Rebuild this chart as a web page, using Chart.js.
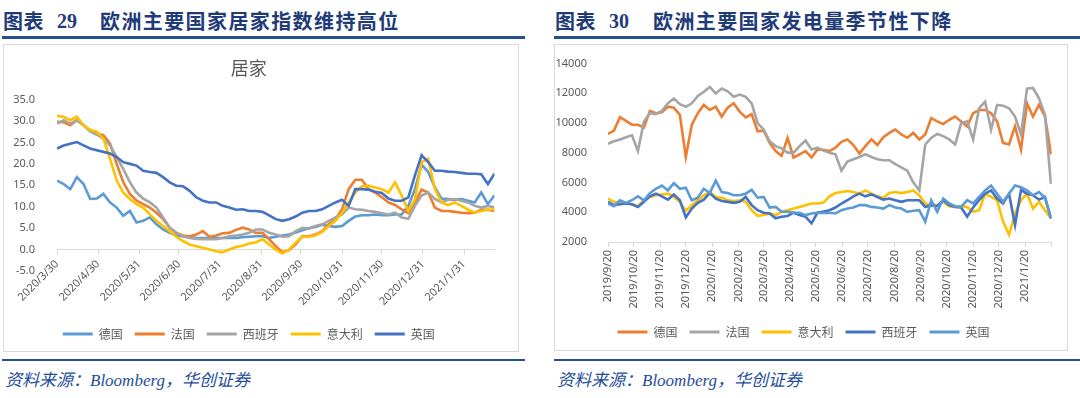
<!DOCTYPE html>
<html>
<head>
<meta charset="utf-8">
<script src="https://cdn.jsdelivr.net/npm/chart.js@4.4.1/dist/chart.umd.min.js"></script>
<style>
  body { margin: 0; width: 1080px; height: 398px; background: #fff; position: relative; overflow: hidden;
         font-family: "Noto Sans CJK SC", sans-serif; }
  .hd { position: absolute; top: 7px; line-height: 28px; font-size: 20px; font-weight: 700; color: #1f3c78; white-space: nowrap; }
  .num { font-family: "Liberation Serif", serif; }
  .rule { position: absolute; height: 3px; background: #24508f; }
  .box { position: absolute; box-sizing: border-box; border: 1px solid #d9d9d9; }
  .src { position: absolute; top: 367px; line-height: 24px; font-size: 17px; font-style: italic; color: #1f4e9a; white-space: nowrap; }
  .src i { font-family: "Liberation Serif", serif; }
  canvas { position: absolute; }
</style>
</head>
<body>
  <div class="hd" style="left:3px;letter-spacing:0.5px">图表</div>
  <div class="hd num" style="left:57px">29</div>
  <div class="hd" style="left:100px;letter-spacing:1.4px">欧洲主要国家居家指数维持高位</div>
  <div class="rule" style="left:2px;top:36px;width:523px"></div>
  <div class="box" style="left:3px;top:44px;width:516px;height:308px"></div>
  <canvas id="home" width="516" height="306" style="left:3px;top:44px"></canvas>
  <div class="rule" style="left:2px;top:359px;width:523px;height:2px"></div>
  <div class="src" style="left:5px">资料来源：<i>Bloomberg</i>，华创证券</div>

  <div class="hd" style="left:555px;letter-spacing:0.5px">图表</div>
  <div class="hd num" style="left:609px">30</div>
  <div class="hd" style="left:653px;letter-spacing:1.4px">欧洲主要国家发电量季节性下降</div>
  <div class="rule" style="left:554px;top:36px;width:526px"></div>
  <div class="box" style="left:554px;top:44px;width:514px;height:307px"></div>
  <canvas id="power" width="514" height="304" style="left:554px;top:44px"></canvas>
  <div class="rule" style="left:554px;top:359px;width:526px;height:2px"></div>
  <div class="src" style="left:557px">资料来源：<i>Bloomberg</i>，华创证券</div>

<script>
// 居家指数: one value every 5 days starting 2020/3/30
const homeStepDays = 5;
const homeTickDays = [0, 31, 62, 92, 123, 154, 184, 215, 245, 276, 307];
const homeTickLabels = ['2020/3/30', '2020/4/30', '2020/5/31', '2020/6/30', '2020/7/31', '2020/8/31',
  '2020/9/30', '2020/10/31', '2020/11/30', '2020/12/31', '2021/1/31'];
const homeGermany = [16.1, 15.3, 14.1, 16.9, 15.3, 11.8, 11.9, 13.0, 11.0, 9.8, 7.9, 9.0, 6.3, 6.7, 7.5, 5.9, 4.7,
  3.9, 3.3, 3.1, 3.0, 2.7, 2.7, 2.7, 2.7, 2.7, 2.7, 2.7, 2.9, 3.0, 3.1, 3.1, 2.7,
  3.0, 3.3, 3.5, 4.0, 4.5, 5.0, 5.3, 5.8, 5.5, 5.3, 5.5, 6.7, 7.7, 8.0, 8.0, 8.2, 8.0, 8.0, 8.2, 8.2,
  10.2, 14.1, 19.8, 18.1, 14.5, 11.9, 11.8, 11.6, 11.8, 11.4, 11.0, 13.3, 10.6, 12.7];
const homeFrance = [29.8, 29.7, 29.0, 30.2, 29.0, 27.9, 27.1, 26.7, 24.7, 20.0, 15.7, 13.0, 11.4, 10.6, 9.8, 8.6, 7.1,
  5.1, 3.9, 3.3, 3.1, 3.5, 4.3, 3.0, 3.3, 3.8, 3.9, 4.6, 5.1, 4.7, 3.9, 3.9, 2.4,
  0.8, -0.6, -0.1, 1.2, 3.1, 3.1, 3.5, 4.3, 5.9, 7.1, 9.4, 14.1, 16.3, 16.3, 14.1, 13.3, 12.2, 11.0, 10.4, 9.4,
  8.5, 11.0, 14.0, 13.3, 9.8, 9.0, 9.0, 8.8, 8.6, 8.5, 8.6, 9.3, 9.3, 9.0];
const homeSpain = [29.4, 30.2, 29.4, 30.2, 29.0, 27.6, 26.8, 25.9, 24.3, 21.6, 18.8, 15.7, 13.3, 11.9, 11.0, 9.8, 7.5,
  5.1, 3.9, 3.1, 2.7, 2.5, 2.4, 2.4, 2.4, 2.7, 3.1, 3.3, 3.5, 3.9, 4.7, 4.7, 3.9,
  3.5, 3.0, 3.1, 4.3, 5.1, 4.9, 5.5, 5.9, 6.7, 7.5, 8.2, 9.8, 9.4, 9.3, 9.0, 8.8, 8.5, 8.2, 8.6, 7.5,
  7.2, 10.2, 12.6, 13.3, 11.8, 11.0, 11.6, 11.8, 11.4, 11.0, 10.2, 9.8, 10.2, 9.8];
const homeItaly = [31.2, 31.0, 30.2, 31.0, 29.0, 27.9, 27.5, 25.9, 21.2, 16.1, 13.3, 11.8, 10.6, 9.8, 8.2, 6.7, 5.5,
  4.3, 3.0, 2.0, 1.2, 0.8, 0.4, 0.0, -0.4, -0.6, 0.0, 0.6, 0.9, 1.4, 1.7, 2.4, 1.2,
  0.0, -0.9, 0.0, 1.6, 3.0, 3.0, 3.3, 4.1, 5.5, 6.7, 8.6, 11.0, 13.3, 14.8, 14.9, 14.5, 14.1, 13.3, 15.7, 12.6,
  9.0, 11.8, 20.4, 21.2, 14.1, 11.0, 10.4, 11.0, 10.2, 9.3, 8.6, 9.0, 9.3, 9.4];
const homeUK = [23.6, 24.3, 24.7, 25.1, 24.3, 23.6, 23.2, 22.8, 22.4, 21.6, 20.4, 20.0, 19.6, 18.4, 18.1, 17.9, 16.9,
  15.7, 14.9, 14.8, 13.7, 12.2, 11.4, 11.0, 11.0, 10.2, 9.8, 9.3, 9.4, 9.0, 9.0, 8.8, 8.0,
  7.1, 6.7, 7.1, 7.7, 8.6, 9.0, 9.0, 9.4, 10.2, 11.0, 11.6, 10.2, 14.1, 14.1, 14.0, 13.5, 13.2, 11.9, 11.4, 11.4,
  12.2, 17.3, 22.0, 20.4, 18.4, 18.4, 18.2, 18.1, 17.9, 17.7, 17.7, 17.6, 15.3, 17.7];

// 发电量: weekly values starting 2019/9/20
const powerStepDays = 7;
const powerTickDays = [0, 30, 61, 91, 122, 153, 182, 213, 243, 274, 304, 335, 366, 396, 427, 457, 488, 519];
const powerTickLabels = ['2019/9/20', '2019/10/20', '2019/11/20', '2019/12/20', '2020/1/20', '2020/2/20', '2020/3/20',
  '2020/4/20', '2020/5/20', '2020/6/20', '2020/7/20', '2020/8/20', '2020/9/20', '2020/10/20', '2020/11/20',
  '2020/12/20', '2021/1/20', ''];
const powerGermany = [9270, 9490, 10400, 10150, 9890, 9890, 9710, 10820, 10660, 10730, 11100, 11040, 10550, 7720, 9890,
  10660, 11220, 10880, 11100, 10440, 11040, 11330, 10770, 10380, 10600, 9450, 9490, 8670, 8120, 7790, 9000, 7680,
  7900, 8120, 7680, 8230, 8200, 8120, 8340, 8740, 8900, 8520, 7950, 8450, 8900, 8520, 9050, 9340, 9560, 9230, 9010,
  9340, 8900, 9230, 10330, 10110, 9930, 10220, 10440, 10110, 9780, 10660, 10880, 10880, 10660, 10110, 8670, 8560,
  9780, 8230, 11330, 10440, 11220, 10440, 7900];
const powerFrance = [8610, 8780, 8900, 9050, 9180, 8120, 10110, 10660, 10600, 10820, 11330, 11660, 11270, 11100, 11330,
  11830, 12100, 12430, 11990, 12320, 12140, 11770, 11920, 11770, 11330, 10000, 9560, 8780, 8450, 8300, 8010, 8010,
  8450, 8830, 8230, 8340, 8150, 8010, 7900, 6800, 7410, 7570, 7720, 7900, 7720, 7570, 7500, 7500, 7240, 7020, 6800,
  6020, 5470, 8560, 9000, 9270, 9120, 8900, 8560, 10000, 10110, 8900, 11000, 11440, 9560, 11220, 11170, 11000,
  10440, 9230, 12320, 12360, 11660, 10550, 5910];
const powerItaly = [4920, 4700, 4590, 4630, 4540, 4410, 4810, 5030, 5140, 5200, 5250, 5030, 4700, 4100, 4480, 4810,
  5140, 5360, 5030, 4980, 4810, 4760, 4810, 4700, 4140, 3750, 3810, 3920, 3810, 4030, 4140, 4250, 4360, 4480, 4590,
  4590, 4650, 5070, 5290, 5360, 5430, 5360, 5250, 5470, 5250, 5070, 4980, 5290, 5360, 5290, 5360, 5470, 5140, 4590,
  4480, 4480, 4700, 4410, 4360, 4410, 4360, 4030, 4140, 5250, 5030, 4810, 3370, 2490, 3920, 4810, 5250, 4250, 4700,
  4140, 3590];
const powerSpain = [4700, 4480, 4540, 4590, 4540, 4360, 4700, 5070, 5250, 5070, 4850, 5200, 4810, 3660, 4250, 4630,
  4850, 5290, 4920, 4760, 4700, 4630, 4700, 5030, 4480, 4140, 3970, 3920, 3590, 3700, 3750, 3970, 3810, 3700, 3260,
  3970, 4050, 4140, 4320, 4590, 4810, 5070, 5250, 5070, 5200, 5030, 4850, 4920, 4810, 4700, 4810, 4810, 4810, 4360,
  4480, 4410, 4810, 4480, 4360, 4320, 3700, 4320, 4810, 5250, 5470, 4920, 4590, 5250, 3150, 5510, 5250, 5140, 4850,
  5030, 3590];
const powerUK = [4590, 4410, 4810, 4630, 4810, 5070, 4810, 5290, 5580, 5800, 5470, 5960, 5580, 5650, 4810, 4980, 5580,
  5290, 6130, 5360, 5290, 5140, 5140, 5250, 5510, 4980, 5030, 4320, 4360, 4030, 4030, 3970, 3970, 3810, 3920, 3970,
  3950, 3970, 3920, 4140, 4250, 4320, 4480, 4480, 4360, 4320, 4250, 4480, 4320, 4250, 4030, 4100, 4140, 3370, 4810,
  4030, 4920, 4590, 4410, 4360, 4810, 4590, 5030, 5470, 5800, 5250, 4700, 5250, 5800, 5690, 5470, 5140, 5360, 4980,
  3590];

const BLUE = '#5b9bd5', ORANGE = '#ed7d31', GREY = '#a5a5a5', GOLD = '#ffc000', NAVY = '#4472c4';
const tickFont = { family: '"Noto Sans", sans-serif', size: 11 };

Chart.defaults.font.family = '"Noto Sans CJK SC", "Noto Sans", sans-serif';
Chart.defaults.color = '#595959';
Chart.defaults.animation = false;

function series(label, values, step, color, order) {
  return {
    label: label,
    data: values.map((v, i) => ({ x: i * step, y: v })),
    borderColor: color,
    backgroundColor: color,
    borderWidth: 2.6,
    pointRadius: 0,
    tension: 0,
    order: order
  };
}

function legend() {
  return {
    position: 'bottom',
    labels: {
      boxWidth: 30,
      boxHeight: 3,
      padding: 12,
      color: '#595959',
      font: { size: 12 },
      sort: (a, b) => a.datasetIndex - b.datasetIndex,
      generateLabels: ch => Chart.defaults.plugins.legend.labels.generateLabels(ch)
        .map(l => Object.assign(l, { lineWidth: 0 }))
    }
  };
}

function xAxis(tickDays, tickLabels, max, rotation, height) {
  return {
    type: 'linear',
    min: 0,
    max: max,
    afterBuildTicks: s => { s.ticks = tickDays.map(v => ({ value: v })); },
    afterFit: s => { s.height = height; },
    grid: { display: true, drawOnChartArea: false, drawTicks: true, tickLength: 5, color: '#d9d9d9' },
    border: { display: true, color: '#d9d9d9' },
    ticks: {
      autoSkip: false,
      minRotation: rotation,
      maxRotation: rotation,
      padding: 3,
      font: tickFont,
      callback: (v, i) => tickLabels[i]
    }
  };
}

new Chart(document.getElementById('home'), {
  type: 'line',
  data: {
    datasets: [
      series('德国', homeGermany, homeStepDays, BLUE, 4),
      series('法国', homeFrance, homeStepDays, ORANGE, 3),
      series('西班牙', homeSpain, homeStepDays, GREY, 2),
      series('意大利', homeItaly, homeStepDays, GOLD, 1),
      series('英国', homeUK, homeStepDays, NAVY, 0)
    ]
  },
  options: {
    responsive: false,
    layout: { padding: { right: 24.5 } },
    scales: {
      // date axis crosses the value axis at 0, as in the source chart
      x: Object.assign(xAxis(homeTickDays, homeTickLabels, 330, 45, 0), { position: { y: 0 } }),
      // empty band below the plot that keeps room for the hanging date labels
      gap: {
        type: 'linear', axis: 'x', position: 'bottom',
        afterFit: s => { s.height = 45; },
        grid: { display: false }, border: { display: false }, ticks: { display: false }
      },
      y: {
        min: -5,
        max: 35,
        afterFit: s => { s.width = 54; },
        grid: { display: false },
        border: { display: false },
        ticks: { stepSize: 5, padding: 14, font: tickFont, callback: v => v.toFixed(1) }
      }
    },
    plugins: {
      title: { display: true, text: '居家', color: '#595959', font: { size: 18, weight: 'normal' },
               padding: { top: 13, bottom: 21 } },
      legend: legend(),
      tooltip: { enabled: false }
    }
  }
});

new Chart(document.getElementById('power'), {
  type: 'line',
  data: {
    datasets: [
      series('德国', powerGermany, powerStepDays, ORANGE, 4),
      series('法国', powerFrance, powerStepDays, GREY, 3),
      series('意大利', powerItaly, powerStepDays, GOLD, 2),
      series('西班牙', powerSpain, powerStepDays, NAVY, 1),
      series('英国', powerUK, powerStepDays, BLUE, 0)
    ]
  },
  options: {
    responsive: false,
    layout: { padding: { top: 16, right: 15 } },
    scales: {
      x: xAxis(powerTickDays, powerTickLabels, 519, 90, 72),
      y: {
        min: 2000,
        max: 14000,
        afterFit: s => { s.width = 54; },
        grid: { display: false },
        border: { display: false },
        ticks: { stepSize: 2000, padding: 13, font: tickFont, callback: v => String(v) }
      }
    },
    plugins: {
      legend: legend(),
      tooltip: { enabled: false }
    }
  }
});
</script>
</body>
</html>
